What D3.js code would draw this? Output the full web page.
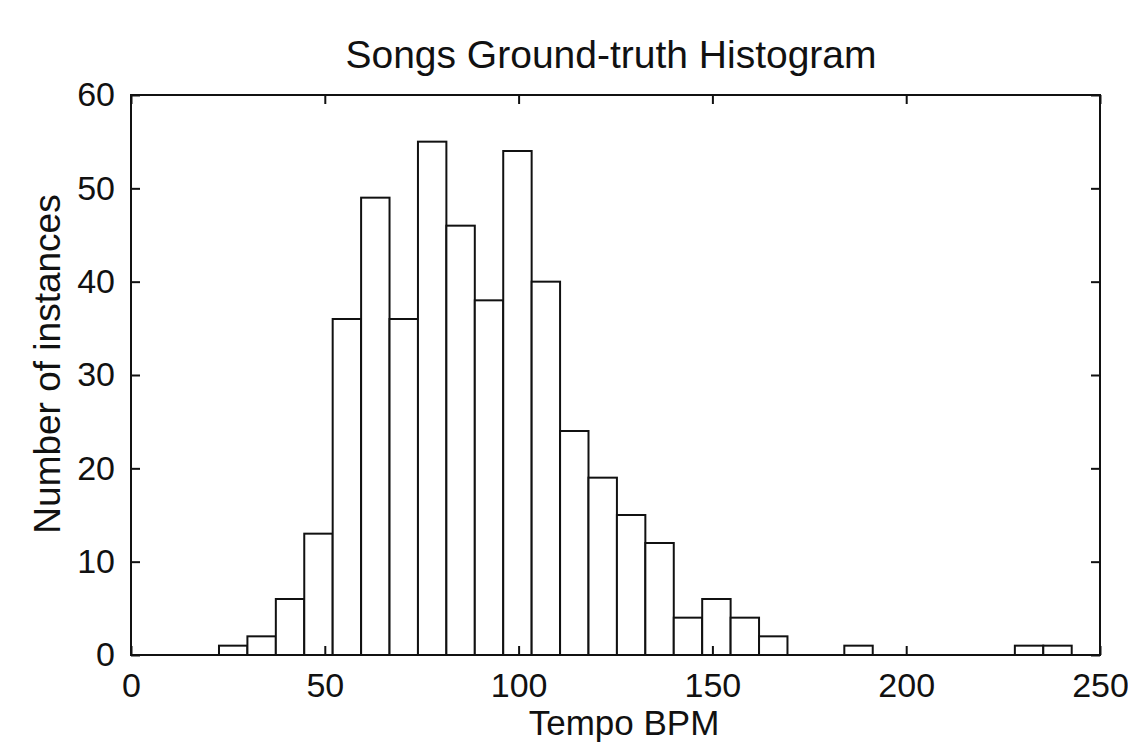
<!DOCTYPE html>
<html>
<head>
<meta charset="utf-8">
<script src="https://cdn.jsdelivr.net/npm/d3@7"></script>
<style>
  body { margin: 0; background: #fff; }
  text { font-family: "Liberation Sans", Arial, sans-serif; fill: #111; }
</style>
</head>
<body>
<script>
// histogram data (30 bins between min and max tempo)
var tempoMin = 22.7;
var tempoMax = 242.7;
var counts = [1, 2, 6, 13, 36, 49, 36, 55, 46, 38,
              54, 40, 24, 19, 15, 12, 4, 6, 4, 2,
              0, 0, 1, 0, 0, 0, 0, 0, 1, 1];
var xTicks = [0, 50, 100, 150, 200, 250];
var yTicks = [0, 10, 20, 30, 40, 50, 60];

var w = 1128;
var h = 750;
var mL = 131, mR = 1100, mT = 95, mB = 655;

var binW = (tempoMax - tempoMin) / counts.length;
var bins = counts.map(function(c, i) {
  return { x0: tempoMin + i * binW, x1: tempoMin + (i + 1) * binW, n: c };
});

var xScale = d3.scaleLinear().domain([0, 250]).range([mL, mR]);
var yScale = d3.scaleLinear().domain([0, 60]).range([mB, mT]);

var svg = d3.select("body").append("svg")
  .attr("width", w).attr("height", h);

// bars
svg.append("g").selectAll("rect")
  .data(bins.filter(function(d) { return d.n > 0; }))
  .enter()
  .append("rect")
  .attr("x", function(d) { return xScale(d.x0); })
  .attr("y", function(d) { return yScale(d.n); })
  .attr("width", function(d) { return xScale(d.x1) - xScale(d.x0); })
  .attr("height", function(d) { return yScale(0) - yScale(d.n); })
  .attr("fill", "white")
  .attr("stroke", "#111")
  .attr("stroke-width", 2);

// axes - ticks point inward on all four sides
var tk = 9;
var axB = d3.axisBottom(xScale).tickValues(xTicks).tickSize(-tk).tickPadding(18);
var axT = d3.axisTop(xScale).tickValues(xTicks).tickSize(-tk).tickFormat("");
var axL = d3.axisLeft(yScale).tickValues(yTicks).tickSize(-tk).tickPadding(16);
var axR = d3.axisRight(yScale).tickValues(yTicks).tickSize(-tk).tickFormat("");

function style(g) {
  g.select(".domain").remove();
  g.selectAll("line").attr("stroke", "#111").attr("stroke-width", 2);
  g.selectAll("text").attr("font-size", "34px").attr("fill", "#222")
    .style("font-family", "'Liberation Sans', Arial, sans-serif");
}

svg.append("g").attr("transform", "translate(0," + mB + ")").call(axB).call(style);
svg.append("g").attr("transform", "translate(0," + mT + ")").call(axT).call(style);
svg.append("g").attr("transform", "translate(" + mL + ",0)").call(axL).call(style);
svg.append("g").attr("transform", "translate(" + mR + ",0)").call(axR).call(style);

// frame
svg.append("rect")
  .attr("x", mL).attr("y", mT)
  .attr("width", mR - mL).attr("height", mB - mT)
  .attr("fill", "none").attr("stroke", "#111").attr("stroke-width", 2);

// titles
svg.append("text")
  .attr("x", 611).attr("y", 68)
  .attr("text-anchor", "middle")
  .attr("font-size", "39px")
  .attr("fill", "#222")
  .text("Songs Ground-truth Histogram");

svg.append("text")
  .attr("x", 624).attr("y", 735)
  .attr("text-anchor", "middle")
  .attr("font-size", "35px")
  .attr("fill", "#222")
  .text("Tempo BPM");

svg.append("text")
  .attr("transform", "translate(60,364) rotate(-90)")
  .attr("text-anchor", "middle")
  .attr("font-size", "37px")
  .attr("fill", "#222")
  .text("Number of instances");
</script>
</body>
</html>
